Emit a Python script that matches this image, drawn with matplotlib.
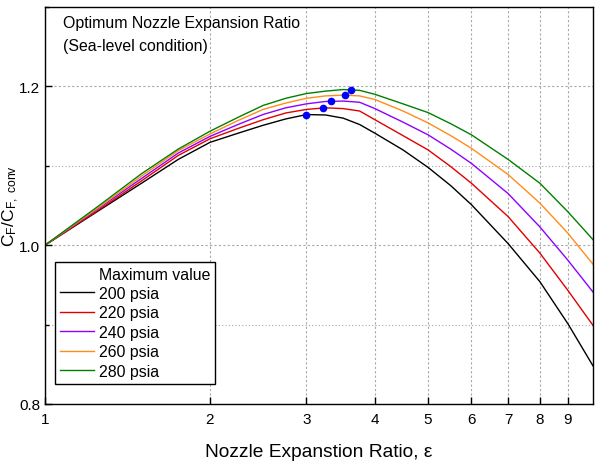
import matplotlib
matplotlib.use("Agg")
import matplotlib.pyplot as plt
from matplotlib.lines import Line2D
from matplotlib.ticker import MultipleLocator, NullLocator

plt.rcParams['font.family'] = ['Liberation Sans', 'DejaVu Sans']
plt.rcParams['mathtext.fontset'] = 'custom'
plt.rcParams['mathtext.rm'] = 'Liberation Sans'
plt.rcParams['mathtext.it'] = 'Liberation Sans'

# expansion ratio samples
eps = [1, 1.25, 1.5, 1.75, 2, 2.25, 2.5, 2.75, 3, 3.25, 3.5, 3.75, 4,
       4.5, 5, 5.5, 6, 7, 8, 9, 10]

cf_200 = [1.000, 1.043, 1.078, 1.108, 1.1295, 1.141, 1.151, 1.159, 1.1645, 1.164, 1.160, 1.152, 1.141,
          1.120, 1.098, 1.075, 1.051, 1.002, 0.954, 0.901, 0.848]
cf_220 = [1.000, 1.044, 1.081, 1.113, 1.134, 1.147, 1.158, 1.1665, 1.171, 1.173, 1.172, 1.169, 1.158,
          1.138, 1.120, 1.099, 1.078, 1.036, 0.990, 0.943, 0.899]
cf_240 = [1.000, 1.046, 1.084, 1.116, 1.137, 1.152, 1.1646, 1.173, 1.178, 1.181, 1.1815, 1.180, 1.172,
          1.155, 1.139, 1.121, 1.103, 1.065, 1.023, 0.981, 0.941]
cf_260 = [1.000, 1.047, 1.087, 1.119, 1.140, 1.157, 1.171, 1.179, 1.185, 1.188, 1.189, 1.188, 1.1835,
          1.169, 1.154, 1.138, 1.122, 1.089, 1.053, 1.015, 0.976]
cf_280 = [1.000, 1.049, 1.090, 1.121, 1.1435, 1.161, 1.176, 1.185, 1.191, 1.194, 1.196, 1.195, 1.190,
          1.178, 1.167, 1.153, 1.139, 1.108, 1.078, 1.042, 1.007]

labels = ['200 psia', '220 psia', '240 psia', '260 psia', '280 psia']
colors = ['black', '#e00000', '#8f00ff', '#ff8c1a', '#008000']

# optimum points
peak_eps = [3.0, 3.22, 3.32, 3.52, 3.62]
peak_cf = [1.1645, 1.173, 1.1815, 1.189, 1.196]

fig = plt.figure(figsize=(5.97, 4.64), dpi=100)
ax = fig.add_axes([0.0754, 0.1272, 0.9179, 0.8556])

handles = [Line2D([], [], color='none')]
for cf, lab, col in zip([cf_200, cf_220, cf_240, cf_260, cf_280], labels, colors):
    h, = ax.plot(eps, cf, color=col, lw=1.0, label=lab)
    handles.append(h)
ax.plot(peak_eps, peak_cf, 'o', color='#0000ff', ms=4.5, zorder=5)

ax.set_xscale('log')
ax.set_xlim(1, 10)
ax.set_ylim(0.8, 1.3)
ax.set_xticks([1, 2, 3, 4, 5, 6, 7, 8, 9])
ax.set_xticklabels(['1', '2', '3', '4', '5', '6', '7', '8', '9'])
ax.xaxis.set_minor_locator(NullLocator())
ax.yaxis.set_major_locator(MultipleLocator(0.2))
ax.yaxis.set_minor_locator(MultipleLocator(0.1))
ax.yaxis.set_major_formatter(plt.FormatStrFormatter('%.1f'))
ax.tick_params(which='both', direction='in', labelsize=11, top=False, right=False)
ax.tick_params(axis='x', pad=6)
ax.tick_params(which='major', length=5, width=1)
ax.tick_params(which='minor', length=3, width=1)
for s in ax.spines.values():
    s.set_linewidth(1.0)

ax.grid(True, which='major', axis='both', color='#a8a8a8', ls=(0, (2, 2)), lw=0.8)
ax.grid(True, which='minor', axis='y', color='#a8a8a8', ls=(0, (1, 2)), lw=0.8)
ax.set_axisbelow(True)

ax.set_xlabel('Nozzle Expanstion Ratio, ε', fontsize=13.8, labelpad=12)
ax.set_ylabel(r'$\mathregular{C_F/C_{F,\ conv}}$', fontsize=12.5)
ax.yaxis.set_label_coords(-0.044, 0.5)

ax.text(0.033, 0.962, 'Optimum Nozzle Expansion Ratio', transform=ax.transAxes,
        fontsize=11.4, va='center')
ax.text(0.033, 0.902, '(Sea-level condition)', transform=ax.transAxes,
        fontsize=11.4, va='center')

leg = ax.legend(handles, ['Maximum value'] + labels, loc='upper left',
                bbox_to_anchor=(0.018, 0.358), borderaxespad=0, fontsize=11.4,
                frameon=True, fancybox=False, edgecolor='black', framealpha=1,
                handlelength=2.2, handletextpad=0.3, labelspacing=0.28,
                borderpad=0.3)
leg.get_frame().set_linewidth(1.0)

fig.savefig('out.png', dpi=100)
